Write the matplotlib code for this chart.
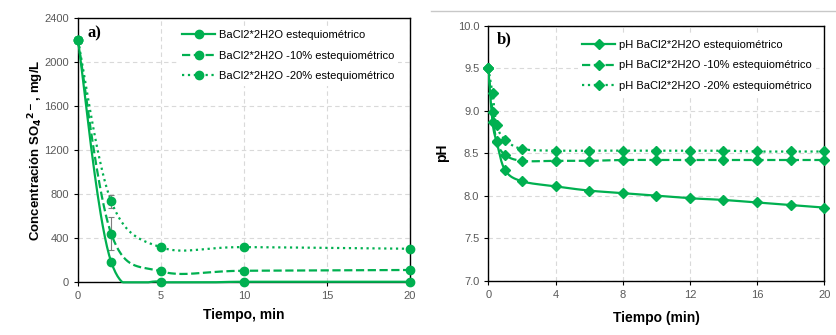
import numpy as np
import matplotlib
matplotlib.use("Agg")
import matplotlib.pyplot as plt
from matplotlib.lines import Line2D

# ---------------- data ----------------
t_a = [0, 2, 5, 10, 20]
so4_stoich = [2200, 185, 5, 5, 5]
so4_m10 = [2200, 442, 100, 105, 112]
so4_m20 = [2200, 736, 318, 320, 305]
err_stoich = [0, 0, 0, 0, 0]
err_m10 = [0, 150, 0, 0, 0]
err_m20 = [0, 60, 0, 0, 0]
labels_a = ["BaCl2*2H2O estequiométrico",
            "BaCl2*2H2O -10% estequiométrico",
            "BaCl2*2H2O -20% estequiométrico"]

t_b = [0, 0.25, 0.5, 1, 2, 4, 6, 8, 10, 12, 14, 16, 18, 20]
ph_stoich = [9.50, 8.87, 8.63, 8.30, 8.17, 8.11, 8.06, 8.03, 8.00, 7.97, 7.95, 7.92, 7.89, 7.86]
ph_m10 = [9.50, 8.98, 8.64, 8.48, 8.41, 8.41, 8.41, 8.42, 8.42, 8.42, 8.42, 8.42, 8.42, 8.42]
ph_m20 = [9.50, 9.21, 8.83, 8.66, 8.55, 8.53, 8.53, 8.53, 8.53, 8.53, 8.53, 8.52, 8.52, 8.52]
labels_b = ["pH BaCl2*2H2O estequiométrico",
            "pH BaCl2*2H2O -10% estequiométrico",
            "pH BaCl2*2H2O -20% estequiométrico"]

# ---------------- style ----------------
GREEN = "#00B050"
TICKC = "#595959"
plt.rcParams["font.family"] = ["Liberation Sans", "DejaVu Sans"]
plt.rcParams["mathtext.default"] = "bf"


def smooth(x, y, n=40):
    """Excel-like smoothed line (Catmull-Rom / cubic Bezier through points)."""
    P = np.column_stack([x, y]).astype(float)
    m = len(P)
    out = []
    for i in range(m - 1):
        p0 = P[i - 1] if i > 0 else P[i]
        p1 = P[i]
        p2 = P[i + 1]
        p3 = P[i + 2] if i + 2 < m else P[i + 1]
        c1 = p1 + (p2 - p0) / 6.0
        c2 = p2 - (p3 - p1) / 6.0
        s = np.linspace(0, 1, n)[:, None]
        seg = ((1 - s) ** 3) * p1 + 3 * ((1 - s) ** 2) * s * c1 + 3 * (1 - s) * s ** 2 * c2 + s ** 3 * p2
        out.append(seg if i == 0 else seg[1:])
    out = np.vstack(out)
    return out[:, 0], out[:, 1]


def style_axes(ax):
    for sp in ax.spines.values():
        sp.set_color("black")
        sp.set_linewidth(1.0)
    ax.grid(True, color="#D9D9D9", linestyle=(0, (4, 3)), linewidth=0.8)
    ax.set_axisbelow(True)
    ax.tick_params(axis="both", labelcolor=TICKC, labelsize=8, length=3, width=0.8,
                   direction="out", color="black")


fig = plt.figure(figsize=(8.36, 3.35), dpi=100)
fig.patch.set_facecolor("white")

# faint separator at the top of the right panel
fig.add_artist(Line2D([0.515, 1.0], [0.968, 0.968], transform=fig.transFigure,
                      color="#C8C8C8", linewidth=1.0))

# ---------------- panel a ----------------
axa = fig.add_axes([0.0933, 0.1573, 0.3971, 0.7881])
styles = ["-", "--", ":"]
series_a = [so4_stoich, so4_m10, so4_m20]
errs_a = [err_stoich, err_m10, err_m20]
handles = []
for ys, er, ls, lab in zip(series_a, errs_a, styles, labels_a):
    xs, yy = smooth(t_a, ys)
    yy = np.clip(yy, 0, None)
    axa.plot(xs, yy, color=GREEN, linestyle=ls, linewidth=1.6, zorder=3, clip_on=False)
    axa.errorbar(t_a, ys, yerr=er, fmt="none", ecolor="#7F7F7F", elinewidth=0.8,
                 capsize=2.5, capthick=0.8, zorder=2)
    axa.plot(t_a, ys, linestyle="none", marker="o", markersize=6,
             color=GREEN, zorder=4, clip_on=False)
    handles.append(Line2D([0], [0], color=GREEN, linestyle=ls, linewidth=1.6,
                          marker="o", markersize=6))
axa.set_xlim(0, 20)
axa.set_ylim(0, 2400)
axa.set_xticks([0, 5, 10, 15, 20])
axa.set_yticks(np.arange(0, 2401, 400))
style_axes(axa)
axa.set_xlabel("Tiempo, min", fontsize=10, fontweight="bold", labelpad=5)
axa.set_ylabel(r"Concentración SO$_4$$^{2-}$, mg/L", fontsize=9.5, fontweight="bold", labelpad=-1)
axa.text(0.03, 0.944, "a)", transform=axa.transAxes, fontsize=12, fontweight="bold",
         family=["Liberation Serif", "DejaVu Serif"], va="center", ha="left")
leg = axa.legend(handles, labels_a, loc="upper right", bbox_to_anchor=(0.975, 0.985),
                 fontsize=8, frameon=True, handlelength=3.0, handletextpad=0.3,
                 labelspacing=0.95, borderaxespad=0.3)
leg.get_frame().set_edgecolor("none")
leg.get_frame().set_facecolor("white")
leg.get_frame().set_alpha(1)

# ---------------- panel b ----------------
axb = fig.add_axes([0.5841, 0.1621, 0.4019, 0.7612])
series_b = [ph_stoich, ph_m10, ph_m20]
handles_b = []
for ys, ls, lab in zip(series_b, styles, labels_b):
    xs, yy = smooth(t_b, ys)
    axb.plot(xs, yy, color=GREEN, linestyle=ls, linewidth=1.6, zorder=3)
    axb.plot(t_b, ys, linestyle="none", marker="D", markersize=5,
             color=GREEN, zorder=4, clip_on=False)
    handles_b.append(Line2D([0], [0], color=GREEN, linestyle=ls, linewidth=1.6,
                            marker="D", markersize=5))
axb.set_xlim(0, 20)
axb.set_ylim(7.0, 10.0)
axb.set_xticks(np.arange(0, 21, 4))
axb.set_yticks(np.arange(7.0, 10.01, 0.5))
axb.yaxis.set_major_formatter(matplotlib.ticker.FormatStrFormatter("%.1f"))
style_axes(axb)
axb.set_xlabel("Tiempo (min)", fontsize=10, fontweight="bold", labelpad=8)
axb.set_ylabel("pH", fontsize=10, fontweight="bold", labelpad=6)
axb.text(0.026, 0.948, "b)", transform=axb.transAxes, fontsize=12, fontweight="bold",
         family=["Liberation Serif", "DejaVu Serif"], va="center", ha="left")
legb = axb.legend(handles_b, labels_b, loc="upper right", bbox_to_anchor=(0.985, 0.975),
                  fontsize=8, frameon=True, handlelength=3.0, handletextpad=0.3,
                  labelspacing=0.95, borderaxespad=0.3)
legb.get_frame().set_edgecolor("none")
legb.get_frame().set_facecolor("white")
legb.get_frame().set_alpha(1)

fig.savefig("out.png", dpi=100, facecolor="white")
